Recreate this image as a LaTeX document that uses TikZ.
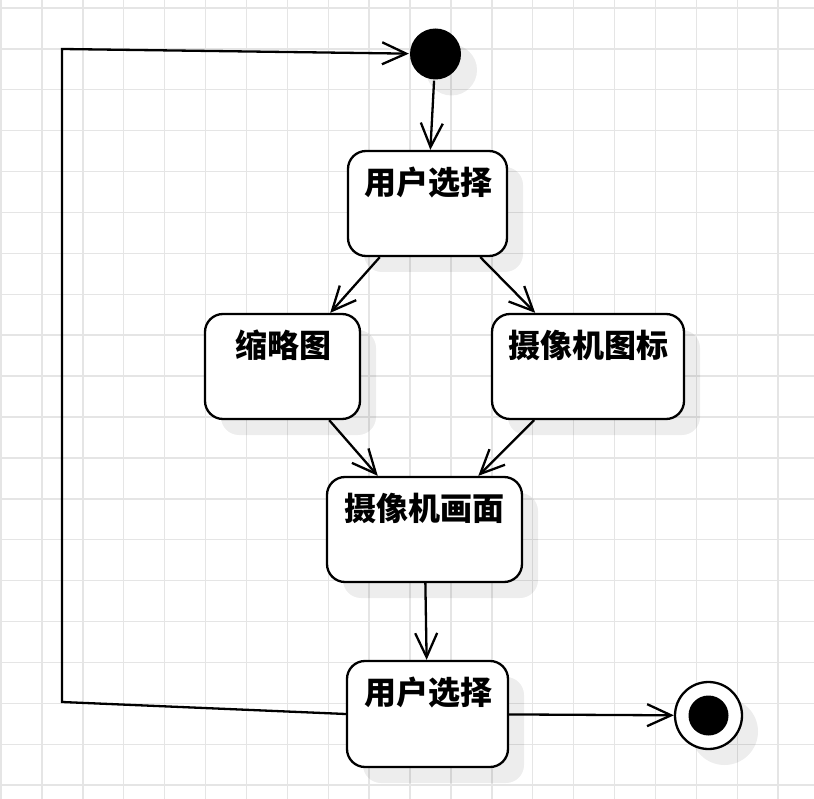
\documentclass[tikz,border=0pt]{standalone}
\usepackage{fontspec}
\newfontfamily\cjk{Noto Sans CJK SC}
\usetikzlibrary{arrows.meta,shadows}

\begin{document}
\begin{tikzpicture}[
        x=1pt, y=-1pt,
        line width=2.3pt,
        gridline/.style={draw=black!10,line width=1.4pt},
        shade/.style={drop shadow={shadow xshift=16pt,shadow yshift=-16pt,fill=black,opacity=0.07}},
        state/.style={draw,fill=white,rounded corners=18pt,shade},
        caption/.style={font=\cjk\bfseries\fontsize{32pt}{34pt}\selectfont,inner sep=0pt,text height=0.86em,text depth=0.14em},
        flow/.style={-{Straight Barb[length=24pt,width=22pt]}},
      ]

      \useasboundingbox (0,0) rectangle (814,799);
      \fill[white] (0,0) rectangle (814,799);

      % grid
      \foreach \gx in {0,...,19}
        \draw[gridline] ({1+40.9*\gx},0) -- ({1+40.9*\gx},799);
      \foreach \gy in {0,...,19}
        \draw[gridline] (0,{8+40.9*\gy}) -- (814,{8+40.9*\gy});

      % states
      \node[circle,fill=black,minimum size=51pt,inner sep=0pt,shade] (start) at (435.5,54) {};
      \node[state,minimum width=159pt,minimum height=105pt] (pick) at (427.5,203.5) {};
      \node[state,minimum width=155pt,minimum height=105pt] (thumb) at (282.5,366.5) {};
      \node[state,minimum width=192pt,minimum height=105pt] (icon) at (588,366.5) {};
      \node[state,minimum width=195pt,minimum height=105pt] (view) at (424.5,529.5) {};
      \node[state,minimum width=161pt,minimum height=106pt] (repick) at (427.5,714) {};
      \node[circle,draw,fill=white,minimum size=67pt,inner sep=0pt,shade] (stop) at (708.5,715.5) {};
      \node[circle,fill=black,minimum size=40pt,inner sep=0pt] (stopdot) at (stop) {};

      \node[caption] (pickt) at (428,191) {用户选择};
      \node[caption] (thumbt) at (283,354) {缩略图};
      \node[caption] (icont) at (588.5,354) {摄像机图标};
      \node[caption] (viewt) at (424.5,517) {摄像机画面};
      \node[caption] (repickt) at (428,701) {用户选择};

      % transitions
      \draw[flow] (start) -- (pick);
      \draw[flow] (pick) -- (thumb);
      \draw[flow] (pick) -- (icon);
      \draw[flow] (thumb) -- (view);
      \draw[flow] (icon) -- (view);
      \draw[flow] (view) -- (repick);
      \draw[flow] (repick) -- (stop);

      \coordinate (loopb) at (62,702);
      \coordinate (loopt) at (62,49);
      \draw[flow] (repick.west) -- (loopb) -- (loopt) -- (start);

    \end{tikzpicture}
\end{document}
